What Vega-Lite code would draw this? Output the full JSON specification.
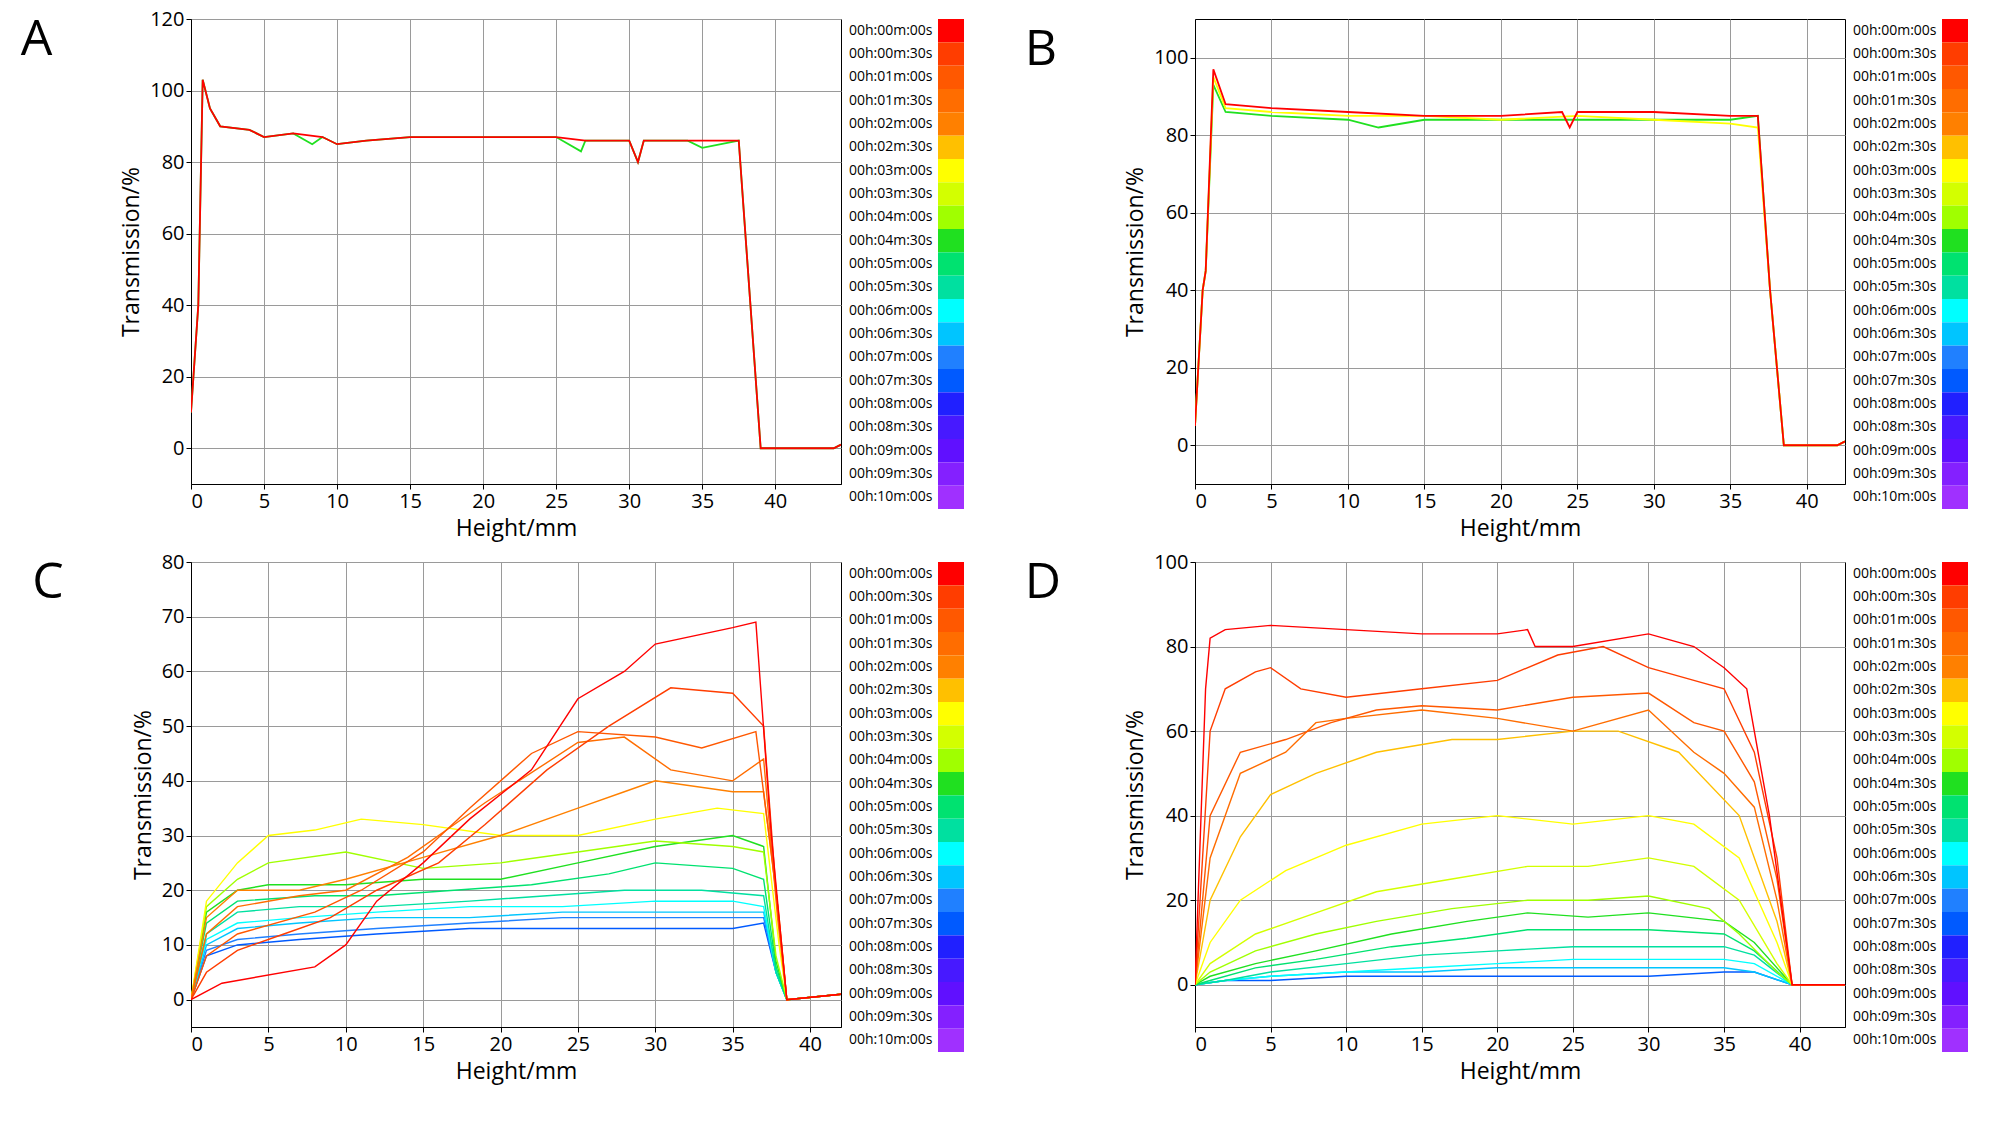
{
"$schema":"https://vega.github.io/schema/vega-lite/v6.json",
"padding":{"left":20,"top":8,"right":5,"bottom":5},
"config":{"font":"Open Sans","view":{"stroke":"black"},
"axis":{"domainColor":"black","tickColor":"black","gridColor":"#9a9a9a","labelFontSize":20,"titleFontSize":23,"titleFontWeight":"normal","labelColor":"black","titleColor":"black","titlePadding":6}},
"datasets":{
"legend":[{"t":0,"lab":"00h:00m:00s"},{"t":1,"lab":"00h:00m:30s"},{"t":2,"lab":"00h:01m:00s"},{"t":3,"lab":"00h:01m:30s"},{"t":4,"lab":"00h:02m:00s"},{"t":5,"lab":"00h:02m:30s"},{"t":6,"lab":"00h:03m:00s"},{"t":7,"lab":"00h:03m:30s"},{"t":8,"lab":"00h:04m:00s"},{"t":9,"lab":"00h:04m:30s"},{"t":10,"lab":"00h:05m:00s"},{"t":11,"lab":"00h:05m:30s"},{"t":12,"lab":"00h:06m:00s"},{"t":13,"lab":"00h:06m:30s"},{"t":14,"lab":"00h:07m:00s"},{"t":15,"lab":"00h:07m:30s"},{"t":16,"lab":"00h:08m:00s"},{"t":17,"lab":"00h:08m:30s"},{"t":18,"lab":"00h:09m:00s"},{"t":19,"lab":"00h:09m:30s"},{"t":20,"lab":"00h:10m:00s"}],
"A":[
{"t":9,"x":[0,0.5,0.8,1.3,2,4,5,7,8.3,9,10,12,15,20,25,26.7,27,30,30.6,31,34,35,37.5,38.3,39,44,44.5],"y":[10,40,103,95,90,89,87,88,85,87,85,86,87,87,87,83,86,86,80,86,86,84,86,40,0,0,1]},
{"t":0,"x":[0,0.5,0.8,1.3,2,4,5,7,9,10,12,15,20,25,27,30,30.6,31,35,37.5,38.3,39,44,44.5],"y":[10,40,103,95,90,89,87,88,87,85,86,87,87,87,86,86,80,86,86,86,40,0,0,1]}],
"B":[
{"t":9,"x":[0,0.5,0.7,1.2,2,5,10,12,15,20,25,30,35,36.8,37.6,38.5,42,42.5],"y":[5,40,45,93,86,85,84,82,84,84,84,84,84,85,40,0,0,1]},
{"t":6,"x":[0,0.5,0.7,1.2,2,5,10,15,20,25,30,35,36.8,37.6,38.5,42,42.5],"y":[5,40,45,95,87,86,85,85,84,85,84,83,82,40,0,0,1]},
{"t":0,"x":[0,0.5,0.7,1.2,2,5,10,15,20,24,24.5,25,30,35,36.8,37.6,38.5,42,42.5],"y":[5,40,45,97,88,87,86,85,85,86,82,86,86,85,85,40,0,0,1]}],
"C":[
{"t":15,"x":[0,1,3,7,12,18,24,30,35,37,37.8,38.5,42],"y":[0,8,10,11,12,13,13,13,13,14,5,0,1]},
{"t":14,"x":[0,1,3,7,12,18,24,30,35,37,37.8,38.5,42],"y":[0,9,11,12,13,14,15,15,15,15,5,0,1]},
{"t":13,"x":[0,1,3,7,12,18,24,30,35,37,37.8,38.5,42],"y":[0,10,13,14,15,15,16,16,16,16,5,0,1]},
{"t":12,"x":[0,1,3,7,12,18,24,30,35,37,37.8,38.5,42],"y":[0,11,14,15,16,17,17,18,18,17,5,0,1]},
{"t":11,"x":[0,1,3,7,12,18,23,28,33,37,37.8,38.5,42],"y":[0,12,16,17,17,18,19,20,20,19,5,0,1]},
{"t":10,"x":[0,1,3,8,12,17,22,27,30,35,37,37.8,38.5,42],"y":[0,14,18,19,19,20,21,23,25,24,22,6,0,1]},
{"t":9,"x":[0,1,3,5,10,15,20,25,30,35,37,37.8,38.5,42],"y":[0,16,20,21,21,22,22,25,28,30,28,7,0,1]},
{"t":8,"x":[0,1,3,5,10,15,20,25,30,35,37,37.8,38.5,42],"y":[0,17,22,25,27,24,25,27,29,28,27,8,0,1]},
{"t":6,"x":[0,1,3,5,8,11,15,20,25,30,34,37,38,38.5,42],"y":[0,18,25,30,31,33,32,30,30,33,35,34,10,0,1]},
{"t":4,"x":[0,1,3,7,10,15,20,25,28,30,35,37,38,38.5,42],"y":[0,15,20,20,22,26,30,35,38,40,38,38,15,0,1]},
{"t":3,"x":[0,1,3,7,10,14,19,25,28,31,35,37,37.9,38.5,42],"y":[0,12,17,19,20,26,36,47,48,42,40,44,15,0,1]},
{"t":2,"x":[0,1,3,8,11,15,18,22,25,30,33,36.5,37.8,38.5,42],"y":[0,8,12,16,20,27,35,45,49,48,46,49,20,0,1]},
{"t":1,"x":[0,1,3,6,9,12,16,19,23,27,31,35,37,37.8,38.5,42],"y":[0,5,9,12,15,20,25,32,42,50,57,56,50,20,0,1]},
{"t":0,"x":[0,2,8,10,12,15,18,22,25,28,30,35,36.5,37.5,38.5,42],"y":[0,3,6,10,18,25,33,42,55,60,65,68,69,30,0,1]}],
"D":[
{"t":15,"x":[0,2,5,10,15,20,25,30,35,37,39.5,43],"y":[0,1,1,2,2,2,2,2,3,3,0,0]},
{"t":13,"x":[0,2,5,10,15,20,25,30,35,37,39.5,43],"y":[0,1,2,3,3,4,4,4,4,3,0,0]},
{"t":12,"x":[0,2,5,10,15,20,25,30,35,37,39.5,43],"y":[0,1,2,3,4,5,6,6,6,5,0,0]},
{"t":11,"x":[0,2,5,10,15,20,25,30,35,37,39.5,43],"y":[0,1,3,5,7,8,9,9,9,7,0,0]},
{"t":10,"x":[0,1,4,8,13,18,22,26,30,35,37,39.5,43],"y":[0,1,4,6,9,11,13,13,13,12,8,0,0]},
{"t":9,"x":[0,1,4,8,13,18,22,26,30,35,37,39.5,43],"y":[0,2,5,8,12,15,17,16,17,15,10,0,0]},
{"t":8,"x":[0,1,4,8,12,17,22,26,30,34,36,38.5,39.5,43],"y":[0,3,8,12,15,18,20,20,21,18,12,3,0,0]},
{"t":7,"x":[0,1,4,8,12,17,22,26,30,33,36,38.5,39.5,43],"y":[0,5,12,17,22,25,28,28,30,28,20,5,0,0]},
{"t":6,"x":[0,1,3,6,10,15,20,25,30,33,36,38.5,39.5,43],"y":[0,10,20,27,33,38,40,38,40,38,30,10,0,0]},
{"t":5,"x":[0,1,3,5,8,12,17,20,25,28,32,36,38.5,39.5,43],"y":[0,20,35,45,50,55,58,58,60,60,55,40,15,0,0]},
{"t":3,"x":[0,1,3,6,8,10,15,20,25,30,33,35,37,38.5,39.5,43],"y":[0,30,50,55,62,63,65,63,60,65,55,50,42,20,0,0]},
{"t":2,"x":[0,1,3,6,9,12,15,20,25,30,33,35,37,38.5,39.5,43],"y":[0,40,55,58,62,65,66,65,68,69,62,60,48,25,0,0]},
{"t":1,"x":[0,1,2,4,5,7,10,15,20,24,27,30,33,35,37,38.5,39.5,43],"y":[0,60,70,74,75,70,68,70,72,78,80,75,72,70,55,30,0,0]},
{"t":0,"x":[0,0.7,1,2,5,10,15,20,22,22.5,25,30,33,35,36.5,38,39.5,43],"y":[0,70,82,84,85,84,83,83,84,80,80,83,80,75,70,40,0,0]}]
},
"vconcat":[
{"hconcat":[
{"hconcat":[
{"width":650,"height":465,"data":{"name":"A"},"transform":[{"flatten":["x","y"]}],
"title":{"text":"A","anchor":"start","fontSize":50,"fontWeight":"normal","dx":-100,"dy":60},
"mark":{"type":"line","strokeWidth":1.8,"clip":true},
"encoding":{"x":{"field":"x","type":"quantitative","scale":{"domain":[0,44.5],"nice":false},"axis":{"values":[0,5,10,15,20,25,30,35,40],"title":"Height/mm"}},
"y":{"field":"y","type":"quantitative","scale":{"domain":[-10,120],"nice":false},"axis":{"values":[0,20,40,60,80,100,120],"title":"Transmission/%"}},
"color":{"field":"t","type":"quantitative","legend":null,"scale":{"domain":[0,4,6,8,9,11,12,14,16,18,20],"range":["#ff0000","#ff8000","#ffff00","#a0ff00","#20e020","#00e0a0","#00ffff","#2080ff","#2020ff","#6010ff","#a030ff"]}},
"detail":{"field":"t","type":"nominal"}}},
{"width":26,"height":490,"data":{"name":"legend"},"mark":{"type":"rect"},"view":{"stroke":null},
"encoding":{"y":{"field":"lab","type":"ordinal","scale":{"paddingInner":0},"axis":{"title":null,"domain":false,"ticks":false,"labelFontSize":14,"labelPadding":6}},
"color":{"field":"t","type":"quantitative","legend":null}}}
],"spacing":6},
{"hconcat":[
{"width":650,"height":465,"data":{"name":"B"},"transform":[{"flatten":["x","y"]}],
"title":{"text":"B","anchor":"start","fontSize":50,"fontWeight":"normal","dx":-100,"dy":60},
"mark":{"type":"line","strokeWidth":1.8,"clip":true},
"encoding":{"x":{"field":"x","type":"quantitative","scale":{"domain":[0,42.5],"nice":false},"axis":{"values":[0,5,10,15,20,25,30,35,40],"title":"Height/mm"}},
"y":{"field":"y","type":"quantitative","scale":{"domain":[-10,110],"nice":false},"axis":{"values":[0,20,40,60,80,100],"title":"Transmission/%"}},
"color":{"field":"t","type":"quantitative","legend":null},
"detail":{"field":"t","type":"nominal"}}},
{"width":26,"height":490,"data":{"name":"legend"},"mark":{"type":"rect"},"view":{"stroke":null},
"encoding":{"y":{"field":"lab","type":"ordinal","scale":{"paddingInner":0},"axis":{"title":null,"domain":false,"ticks":false,"labelFontSize":14,"labelPadding":6}},
"color":{"field":"t","type":"quantitative","legend":null}}}
],"spacing":6}
],"spacing":60},
{"hconcat":[
{"hconcat":[
{"width":650,"height":465,"data":{"name":"C"},"transform":[{"flatten":["x","y"]}],
"title":{"text":"C","anchor":"start","fontSize":50,"fontWeight":"normal","dx":-100,"dy":60},
"mark":{"type":"line","strokeWidth":1.4,"clip":true},
"encoding":{"x":{"field":"x","type":"quantitative","scale":{"domain":[0,42],"nice":false},"axis":{"values":[0,5,10,15,20,25,30,35,40],"title":"Height/mm"}},
"y":{"field":"y","type":"quantitative","scale":{"domain":[-5,80],"nice":false},"axis":{"values":[0,10,20,30,40,50,60,70,80],"title":"Transmission/%"}},
"color":{"field":"t","type":"quantitative","legend":null},
"detail":{"field":"t","type":"nominal"}}},
{"width":26,"height":490,"data":{"name":"legend"},"mark":{"type":"rect"},"view":{"stroke":null},
"encoding":{"y":{"field":"lab","type":"ordinal","scale":{"paddingInner":0},"axis":{"title":null,"domain":false,"ticks":false,"labelFontSize":14,"labelPadding":6}},
"color":{"field":"t","type":"quantitative","legend":null}}}
],"spacing":6},
{"hconcat":[
{"width":650,"height":465,"data":{"name":"D"},"transform":[{"flatten":["x","y"]}],
"title":{"text":"D","anchor":"start","fontSize":50,"fontWeight":"normal","dx":-100,"dy":60},
"mark":{"type":"line","strokeWidth":1.4,"clip":true},
"encoding":{"x":{"field":"x","type":"quantitative","scale":{"domain":[0,43],"nice":false},"axis":{"values":[0,5,10,15,20,25,30,35,40],"title":"Height/mm"}},
"y":{"field":"y","type":"quantitative","scale":{"domain":[-10,100],"nice":false},"axis":{"values":[0,20,40,60,80,100],"title":"Transmission/%"}},
"color":{"field":"t","type":"quantitative","legend":null},
"detail":{"field":"t","type":"nominal"}}},
{"width":26,"height":490,"data":{"name":"legend"},"mark":{"type":"rect"},"view":{"stroke":null},
"encoding":{"y":{"field":"lab","type":"ordinal","scale":{"paddingInner":0},"axis":{"title":null,"domain":false,"ticks":false,"labelFontSize":14,"labelPadding":6}},
"color":{"field":"t","type":"quantitative","legend":null}}}
],"spacing":6}
],"spacing":60}
],"spacing":10
}
